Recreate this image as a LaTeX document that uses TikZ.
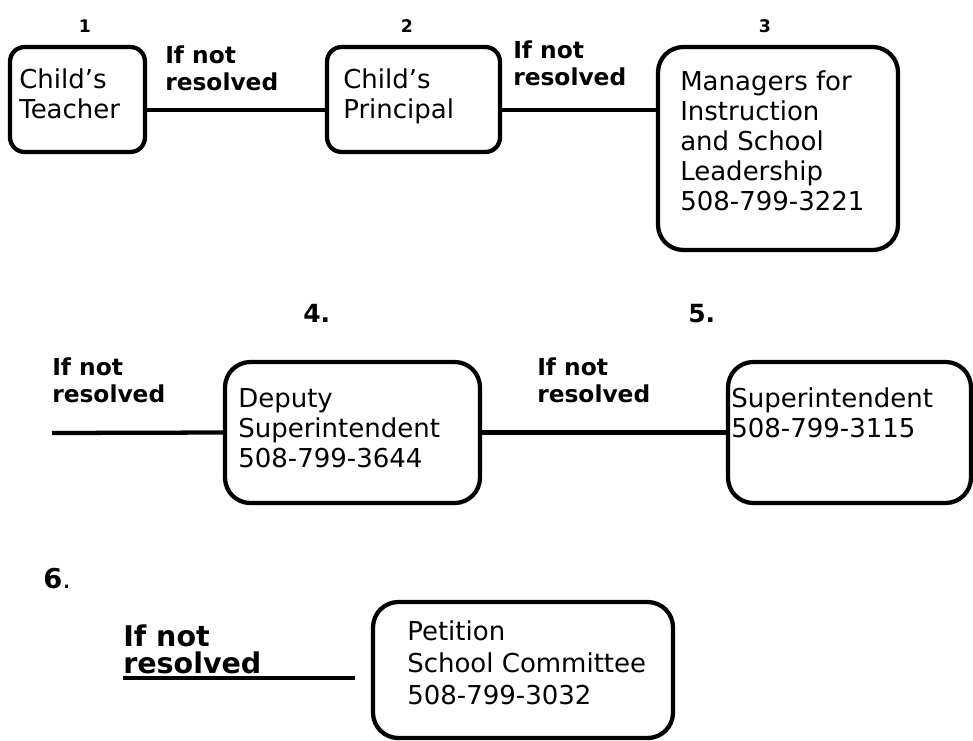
\documentclass[tikz,border=0pt]{standalone}
\usepackage{fontspec}
\setmainfont{DejaVu Sans}

\begin{document}
\begin{tikzpicture}[x=0.75pt,y=-0.75pt,
  box/.style={draw,line width=3.2pt,rounded corners=11pt,inner sep=0pt},
  bigbox/.style={box,rounded corners=19pt},
  boxtext/.style={anchor=north west,inner sep=0pt,align=left,font=\fontsize{19.5}{22.5}\selectfont},
  ifnot/.style={anchor=north west,inner sep=0pt,align=left,font=\bfseries\fontsize{17.5}{20.25}\selectfont},
  stepno/.style={inner sep=0pt,font=\bfseries\fontsize{13}{15}\selectfont},
  bigno/.style={anchor=base west,inner sep=0pt,font=\bfseries\fontsize{18.75}{22}\selectfont},
  link/.style={line width=3.2pt}]
\useasboundingbox (0,0) rectangle (973,740);
\node [box,minimum width=101.25pt,minimum height=78.75pt] (teacher) at (77.5,99.5) {};
\node [box,minimum width=129.75pt,minimum height=78.75pt] (principal) at (413.5,99.5) {};
\node [bigbox,minimum width=180pt,minimum height=152.25pt] (managers) at (778,148.5) {};
\node [bigbox,minimum width=191.25pt,minimum height=105.75pt] (deputy) at (352.5,432.5) {};
\node [bigbox,minimum width=182.25pt,minimum height=105.75pt] (super) at (849.5,432.5) {};
\node [bigbox,minimum width=225pt,minimum height=102pt] (petition) at (523,670) {};
\node [boxtext] (teachertext) at (19,68) {Child’s\\Teacher};
\node [boxtext] (principaltext) at (343,68) {Child’s\\Principal};
\node [boxtext] (managerstext) at (680,70) {Managers for\\Instruction\\and School\\Leadership\\508-799-3221};
\node [boxtext] (deputytext) at (238,388) {Deputy\\Superintendent\\508-799-3644};
\node [boxtext] (supertext) at (731,387) {Superintendent\\508-799-3115};
\node [boxtext,font=\fontsize{19.5}{24}\selectfont] (petitiontext) at (407,620) {Petition\\School Committee\\508-799-3032};
\node [stepno,anchor=base] (one) at (85,32) {1};
\node [stepno,anchor=base] (two) at (407,32) {2};
\node [stepno,anchor=base] (three) at (765,32) {3};
\node [bigno] (four) at (303,322) {4.};
\node [bigno] (five) at (688,322) {5.};
\node [bigno,font=\fontsize{20.5}{24}\selectfont] (six) at (43,588) {\textbf{6}.};
\node [ifnot] (ifnot1) at (165,45.5) {If not\\resolved};
\node [ifnot] (ifnot2) at (513,40.5) {If not\\resolved};
\node [ifnot] (ifnot3) at (52,357.5) {If not\\resolved};
\node [ifnot] (ifnot4) at (537,357.5) {If not\\resolved};
\node [ifnot,font=\bfseries\fontsize{21.4}{20.25}\selectfont] (ifnot6) at (123,625) {If not\\resolved};
\coordinate (start4) at (52,433);
\coordinate (start6) at (123,678);
\coordinate (end6) at (355,678);
\draw [link] (teacher.east |- 0,110) -- (principal.west |- 0,110);
\draw [link] (principal.east |- 0,110) -- (managers.west |- 0,110);
\draw [link] (start4) -- (deputy.west);
\draw [link] (deputy.east) -- (super.west);
\draw [link] (start6) -- (end6);
\end{tikzpicture}
\end{document}
